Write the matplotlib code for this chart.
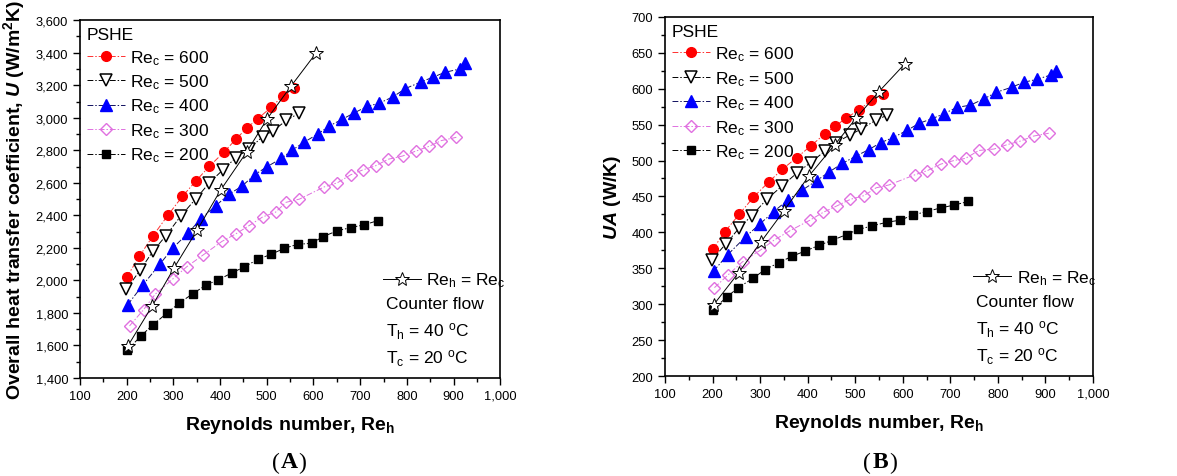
import numpy as np
import matplotlib
matplotlib.use("Agg")
import matplotlib.pyplot as plt
from matplotlib.ticker import MultipleLocator, FuncFormatter

plt.rcParams['font.family'] = ['Liberation Sans', 'DejaVu Sans']
plt.rcParams['mathtext.fontset'] = 'custom'
plt.rcParams['mathtext.rm'] = 'Liberation Sans'
plt.rcParams['mathtext.it'] = 'Liberation Sans:bold:italic'
plt.rcParams['mathtext.bf'] = 'Liberation Sans:bold'

# --- data ---
# panel A: overall heat transfer coefficient U (W/m2K)
re600_x = [200, 227, 256, 288, 319, 349, 377, 408, 435, 458, 481, 510, 534, 558]
re600_U = [2020, 2148, 2273, 2400, 2516, 2614, 2702, 2788, 2872, 2939, 2995, 3066, 3134, 3183]
re500_x = [199, 229, 256, 284, 316, 348, 377, 406, 433, 461, 491, 513, 542, 568]
re500_U = [1945, 2064, 2179, 2275, 2397, 2502, 2600, 2680, 2753, 2806, 2884, 2919, 2984, 3027]
re400_x = [202, 234, 271, 299, 331, 359, 391, 419, 447, 474, 501, 531, 554, 580, 609, 634,
           661, 687, 715, 741, 771, 797, 830, 856, 882, 913, 925]
re400_U = [1850, 1970, 2100, 2200, 2290, 2380, 2460, 2530, 2580, 2650, 2700, 2750, 2800, 2850,
           2900, 2950, 2990, 3030, 3070, 3090, 3130, 3180, 3220, 3250, 3280, 3300, 3340]
re300_x = [206, 236, 261, 299, 329, 363, 404, 433, 461, 491, 519, 541, 570, 623, 651, 680,
           706, 733, 760, 791, 819, 848, 874, 906]
re300_U = [1720, 1820, 1915, 2010, 2085, 2155, 2240, 2285, 2335, 2390, 2420, 2480, 2500,
           2575, 2600, 2650, 2680, 2705, 2745, 2765, 2795, 2825, 2860, 2880]
re200_x = [201, 230, 256, 286, 313, 341, 370, 396, 425, 452, 481, 509, 537, 566, 596, 621,
           651, 680, 709, 738]
re200_U = [1570, 1657, 1727, 1798, 1862, 1917, 1972, 2003, 2046, 2083, 2130, 2160, 2197,
           2222, 2228, 2270, 2305, 2325, 2342, 2368]
equal_x = [202, 255, 301, 351, 401, 457, 501, 552, 606]
equal_U = [1595, 1845, 2075, 2310, 2555, 2790, 2995, 3195, 3400]

# panel B: UA (W/K)
re600_xb = [201, 226, 256, 286, 318, 347, 377, 406, 436, 458, 481, 509, 534, 558]
re600_UA = [377, 401, 425, 449, 470, 488, 504, 520, 537, 548, 559, 571, 584, 593]
re500_xb = [199, 228, 256, 282, 314, 347, 378, 406, 436, 460, 490, 513, 543, 567]
re500_UA = [362, 384, 406, 423, 446, 465, 483, 497, 513, 525, 536, 544, 556, 563]
re400_xb = [202, 232, 270, 300, 329, 358, 389, 419, 445, 473, 501, 528, 554, 580, 609, 635,
            661, 686, 714, 742, 771, 797, 829, 855, 882, 911, 923]
re400_UA = [346, 369, 394, 412, 429, 445, 459, 472, 484, 496, 506, 515, 525, 532, 542, 552,
            558, 565, 574, 577, 586, 595, 602, 609, 613, 619, 625]
re300_xb = [204, 233, 263, 300, 329, 362, 405, 433, 462, 490, 518, 544, 571, 625, 652, 680,
            708, 732, 760, 792, 819, 847, 875, 907]
re300_UA = [323, 341, 359, 375, 389, 402, 417, 428, 437, 446, 451, 462, 466, 480, 486, 495,
            500, 503, 514, 516, 522, 527, 534, 538]
re200_xb = [200, 230, 254, 285, 310, 340, 368, 395, 424, 452, 482, 506, 536, 566, 595, 621,
            650, 680, 708, 738]
re200_UA = [292, 310, 323, 336, 348, 358, 367, 374, 382, 389, 397, 404, 409, 414, 417, 424,
            429, 434, 438, 443]
equal_xb = [202, 255, 301, 350, 402, 457, 502, 550, 605]
equal_UA = [299, 344, 386, 430, 478, 522, 559, 596, 635]

labels = ['Re$_\\mathregular{c}$ = 600', 'Re$_\\mathregular{c}$ = 500', 'Re$_\\mathregular{c}$ = 400',
          'Re$_\\mathregular{c}$ = 300', 'Re$_\\mathregular{c}$ = 200']

dashdot = (0, (6, 2, 1.5, 2))


def draw_panel(ax, series, star, ylim, ystep, yminor, ylabel, comma_y):
    styles = [
        dict(marker='o', mfc='#ff0000', mec='#ff0000', color='#ff3030', ms=7),
        dict(marker='v', mfc='white', mec='black', color='black', ms=8, mew=1.1),
        dict(marker='^', mfc='#0000ff', mec='#0000ff', color='#101060', ms=8),
        dict(marker='D', mfc='none', mec='#e070e0', color='#e070e0', ms=6.3, mew=1.0),
        dict(marker='s', mfc='black', mec='black', color='black', ms=6),
    ]
    handles = []
    for (x, y), st, lab in zip(series, styles, labels):
        h, = ax.plot(x, y, ls=dashdot, lw=0.7, label=lab, **st)
        handles.append(h)
    sx, sy = star
    hs, = ax.plot(sx, sy, marker='*', ms=10, mfc='white', mec='black', mew=0.7,
                  color='black', lw=0.7, label='Re$_\\mathregular{h}$ = Re$_\\mathregular{c}$')

    ax.set_xlim(100, 1000)
    ax.set_ylim(*ylim)
    ax.xaxis.set_major_locator(MultipleLocator(100))
    ax.xaxis.set_minor_locator(MultipleLocator(50))
    ax.yaxis.set_major_locator(MultipleLocator(ystep))
    ax.yaxis.set_minor_locator(MultipleLocator(yminor))
    ax.xaxis.set_major_formatter(FuncFormatter(lambda v, p: f'{v:,.0f}'))
    if comma_y:
        ax.yaxis.set_major_formatter(FuncFormatter(lambda v, p: f'{v:,.0f}'))
    ax.tick_params(which='major', direction='out', length=5, width=1, labelsize=9.3)
    ax.tick_params(which='minor', direction='out', length=3, width=1)
    for sp in ax.spines.values():
        sp.set_linewidth(1.2)

    ax.set_xlabel('Reynolds number, Re$_\\mathregular{h}$', fontsize=14,
                  fontweight='bold', labelpad=9)
    ax.set_ylabel(ylabel, fontsize=14, fontweight='bold', labelpad=6)

    leg = ax.legend(handles=handles, loc='upper left', frameon=False, fontsize=12.5,
                    title='PSHE', title_fontsize=12.5, alignment='left',
                    handlelength=2.2, handletextpad=0.3, labelspacing=0.33,
                    borderaxespad=0.2, borderpad=0.2)
    ax.add_artist(leg)
    ax.legend(handles=[hs], loc='upper left', bbox_to_anchor=(0.72, 0.30), frameon=False,
              fontsize=12.5, handlelength=2.2, handletextpad=0.3, borderaxespad=0,
              borderpad=0)
    ax.text(0.727, 0.208, 'Counter flow', transform=ax.transAxes, fontsize=12.5, va='center')
    ax.text(0.727, 0.132, 'T$_\\mathregular{h}$ = 40 $^\\mathregular{o}$C', transform=ax.transAxes,
            fontsize=12.5, va='center')
    ax.text(0.727, 0.058, 'T$_\\mathregular{c}$ = 20 $^\\mathregular{o}$C', transform=ax.transAxes,
            fontsize=12.5, va='center')


fig = plt.figure(figsize=(11.77, 4.77), dpi=100)
axA = fig.add_axes([0.068, 0.2055, 0.357, 0.750])
axB = fig.add_axes([0.565, 0.2096, 0.3636, 0.753])

draw_panel(axA,
           [(re600_x, re600_U), (re500_x, re500_U), (re400_x, re400_U),
            (re300_x, re300_U), (re200_x, re200_U)],
           (equal_x, equal_U), (1400, 3600), 200, 100,
           'Overall heat transfer coefficient, $\\mathit{U}$ (W/m$^\\mathbf{2}$K)', True)
draw_panel(axB,
           [(re600_xb, re600_UA), (re500_xb, re500_UA), (re400_xb, re400_UA),
            (re300_xb, re300_UA), (re200_xb, re200_UA)],
           (equal_xb, equal_UA), (200, 700), 50, 25, '$\\mathit{UA}$ (W/K)', False)


def caption(xpix, letter):
    x = xpix / 1177
    y = 1 - 463 / 477
    half = 9 / 1177
    fig.text(x - half, y, '(', family='Liberation Serif', fontsize=17, ha='right', va='center')
    fig.text(x, y, letter, family='Liberation Serif', fontsize=17, fontweight='bold',
             ha='center', va='center')
    fig.text(x + half, y, ')', family='Liberation Serif', fontsize=17, ha='left', va='center')


caption(289, 'A')
caption(880, 'B')

fig.savefig('out.png', dpi=100)
